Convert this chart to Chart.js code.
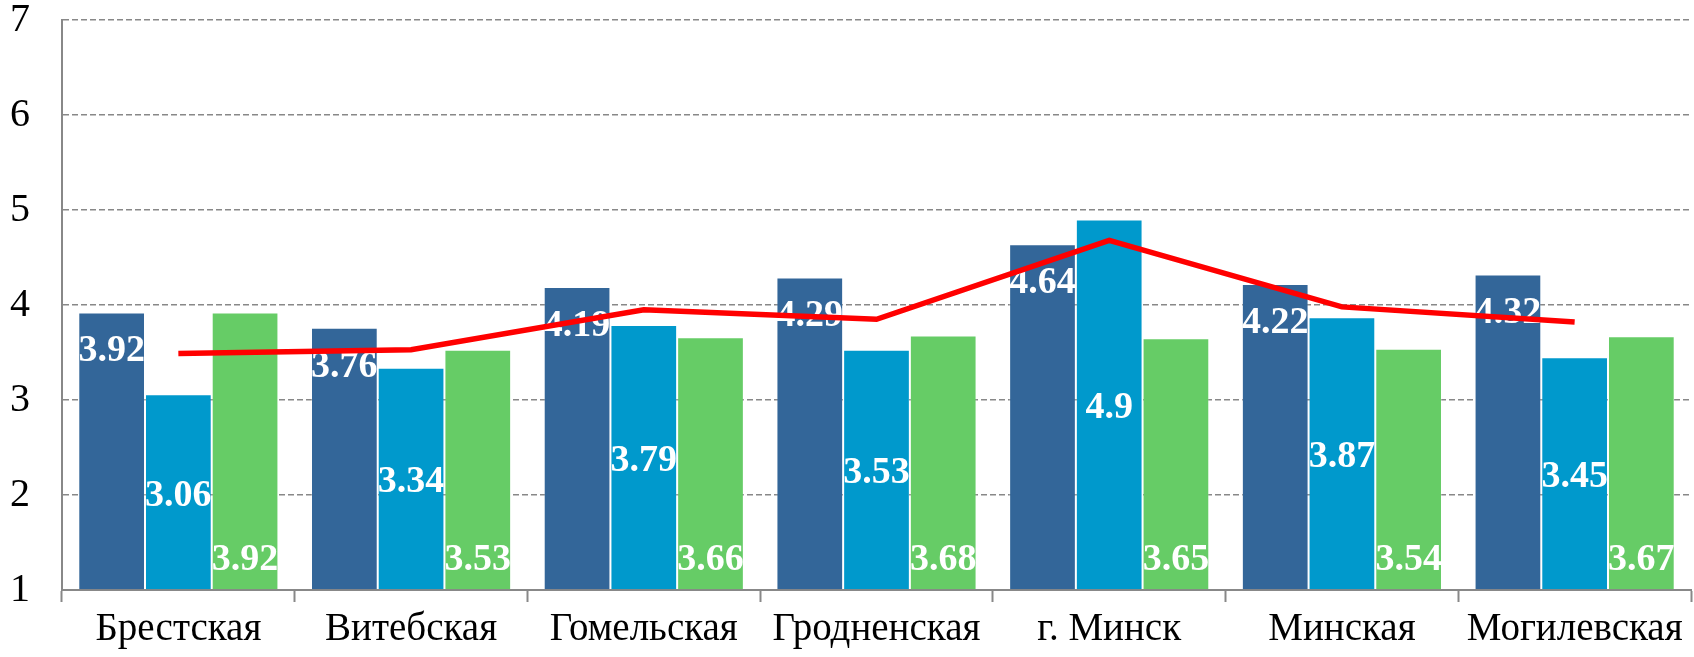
<!DOCTYPE html>
<html>
<head>
<meta charset="utf-8">
<script src="https://cdn.jsdelivr.net/npm/chart.js@4/dist/chart.umd.min.js"></script>
<style>
  body { margin: 0; background: #fff; }
  #wrap { width: 1694px; height: 657px; }
</style>
</head>
<body>
<div id="wrap"><canvas id="regionsChart"></canvas></div>
<script>
// данные по областям
const regions = ['Брестская', 'Витебская', 'Гомельская', 'Гродненская', 'г. Минск', 'Минская', 'Могилевская'];
const series1 = [3.92, 3.76, 4.19, 4.29, 4.64, 4.22, 4.32];
const series2 = [3.06, 3.34, 3.79, 3.53, 4.9, 3.87, 3.45];
const series3 = [3.92, 3.53, 3.66, 3.68, 3.65, 3.54, 3.67];
const lineValues = [3.49, 3.53, 3.95, 3.85, 4.68, 3.98, 3.82];
const yTicks = [1, 2, 3, 4, 5, 6, 7];

Chart.defaults.font.family = '"Liberation Serif", "Times New Roman", serif';

// подписи значений внутри столбцов
const barLabels = {
    id: 'barLabels',
    afterDatasetDraw(chart, args) {
        const meta = args.meta;
        if (meta.type !== 'bar') return;
        const ctx = chart.ctx;
        const values = chart.data.datasets[args.index].data;
        const mode = chart.data.datasets[args.index].labelPos;
        ctx.save();
        ctx.fillStyle = '#fff';
        ctx.font = 'bold 38px "Liberation Serif", "Times New Roman", serif';
        ctx.textAlign = 'center';
        ctx.textBaseline = 'middle';
        meta.data.forEach(function (bar, i) {
            let y;
            if (mode === 'end') y = bar.y + 39;
            else if (mode === 'base') y = bar.base - 29;
            else y = (bar.y + bar.base) / 2 + 4;
            ctx.fillText(String(values[i]), bar.x, y);
        });
        ctx.restore();
    }
};

const ctx = document.getElementById('regionsChart').getContext('2d');
new Chart(ctx, {
    type: 'bar',
    data: {
        labels: regions,
        datasets: [
            {
                type: 'line',
                label: 'Среднее',
                data: lineValues,
                borderColor: '#ff0000',
                borderWidth: 5.5,
                pointRadius: 0,
                tension: 0,
                order: 0
            },
            {
                label: 'Ряд 1',
                data: series1,
                base: 1,
                backgroundColor: '#336699',
                borderColor: 'rgba(255,255,255,0.25)',
                borderWidth: 1,
                labelPos: 'end',
                order: 1
            },
            {
                label: 'Ряд 2',
                data: series2,
                base: 1,
                backgroundColor: '#0099cc',
                borderColor: 'rgba(255,255,255,0.25)',
                borderWidth: 1,
                labelPos: 'center',
                order: 1
            },
            {
                label: 'Ряд 3',
                data: series3,
                base: 1,
                backgroundColor: '#66cc66',
                borderColor: 'rgba(255,255,255,0.25)',
                borderWidth: 1,
                labelPos: 'base',
                order: 1
            }
        ]
    },
    options: {
        responsive: true,
        maintainAspectRatio: false,
        animation: false,
        layout: { padding: { left: 0, right: 3, top: 2, bottom: 0 } },
        datasets: {
            bar: { categoryPercentage: 0.86, barPercentage: 1 }
        },
        plugins: {
            legend: { display: false },
            tooltip: { enabled: false }
        },
        scales: {
            x: {
                offset: true,
                afterFit: function (scale) { scale.height = 67; },
                grid: {
                    offset: true,
                    drawOnChartArea: false,
                    drawTicks: true,
                    tickLength: 12,
                    tickWidth: 2,
                    color: '#888'
                },
                border: { color: '#888', width: 2 },
                ticks: {
                    color: '#000',
                    font: { size: 39 },
                    padding: 4,
                    maxRotation: 0
                }
            },
            y: {
                min: 1,
                max: 7,
                afterFit: function (scale) {
                    scale.width = 62;
                    scale.paddingTop = 20;
                    scale.paddingBottom = 0;
                },
                afterBuildTicks: function (scale) {
                    scale.ticks = yTicks.map(v => ({ value: v }));
                },
                grid: {
                    color: '#888',
                    lineWidth: 1.5,
                    drawTicks: false
                },
                border: { color: '#888', width: 2, dash: [6, 3] },
                ticks: {
                    color: '#000',
                    font: { size: 40 },
                    padding: 32
                }
            }
        }
    },
    plugins: [barLabels]
});
</script>
</body>
</html>
